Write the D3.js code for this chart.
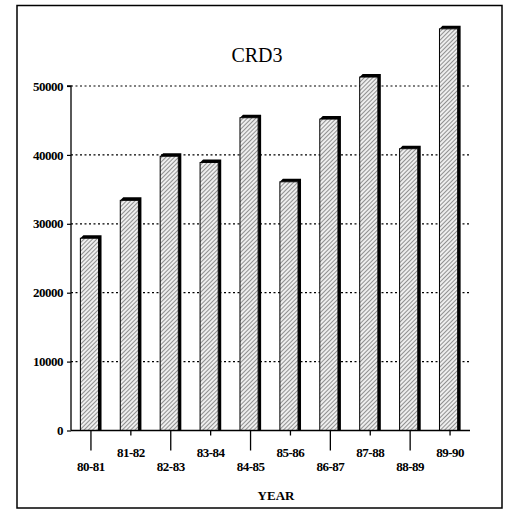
<!DOCTYPE html>
<html>
<head>
<meta charset="utf-8">
<script src="https://cdn.jsdelivr.net/npm/d3@7"></script>
<style>
  html, body { margin: 0; padding: 0; background: #fff; }
  svg { display: block; }
  svg text { font-family: "Liberation Serif", "Times New Roman", Times, "DejaVu Serif", serif !important; fill: #000; }
</style>
</head>
<body>
<svg id="chart" width="507" height="511"></svg>
<script>
const categories = ["80-81","81-82","82-83","83-84","84-85","85-86","86-87","87-88","88-89","89-90"];
const values = [27900, 33400, 39800, 38900, 45400, 36100, 45200, 51300, 40900, 58300];
const yTicks = [0, 10000, 20000, 30000, 40000, 50000];
const title = "CRD3";
const xTitle = "YEAR";

const FONT = "'Liberation Serif', 'Times New Roman', Times, 'DejaVu Serif', serif";
const svg = d3.select("#chart");

// hatch pattern
const defs = svg.append("defs");
const pat = defs.append("pattern")
  .attr("id", "hatch").attr("patternUnits", "userSpaceOnUse")
  .attr("width", 3).attr("height", 3)
  .attr("patternTransform", "rotate(45)");
pat.append("rect").attr("width", 3).attr("height", 3).attr("fill", "#eeeeee");
pat.append("line").attr("x1", 0).attr("y1", 0).attr("x2", 0).attr("y2", 3)
  .attr("stroke", "#444").attr("stroke-width", 1.1);

// frame
svg.append("rect").attr("x", 17).attr("y", 5.5).attr("width", 485).attr("height", 502.5)
  .attr("fill", "none").attr("stroke", "#000").attr("stroke-width", 1.5);

const x = d3.scaleBand().domain(categories).range([71, 470]).paddingInner(0.47).paddingOuter(0.235);
const y = d3.scaleLinear().domain([0, 50000]).range([430.5, 86]);

// title
svg.append("text").attr("x", 257).attr("y", 62).attr("text-anchor", "middle")
  .attr("font-family", FONT).attr("font-size", 20).text(title);

// gridlines
svg.append("g").selectAll("line").data(yTicks.filter(d => d > 0)).join("line")
  .attr("x1", 71).attr("x2", 469)
  .attr("y1", d => y(d)).attr("y2", d => y(d))
  .attr("stroke", "#000").attr("stroke-width", 1.2).attr("stroke-dasharray", "2,2.5");

// y axis
const yAxis = d3.axisLeft(y).tickValues(yTicks).tickSize(4).tickPadding(4).tickFormat(d3.format("d"));
const gy = svg.append("g").attr("transform", "translate(71,0)").call(yAxis)
  .attr("font-family", FONT);
gy.select(".domain").attr("stroke", "#000").attr("stroke-width", 1.3);
gy.selectAll(".tick line").attr("stroke", "#000").attr("stroke-width", 1.2);
gy.selectAll(".tick text").attr("font-family", FONT).attr("font-size", 13)
  .attr("font-weight", "bold").attr("fill", "#000").attr("letter-spacing", -0.5);
gy.select(".domain").attr("d", `M-4,${y(50000)}H0V${y(0)}`);

// bars
const d = 3;
const bw = x.bandwidth() - d;
const bars = svg.append("g").selectAll("g").data(categories).join("g");
bars.append("path")
  .attr("d", (c, i) => {
    const x0 = x(c), yt = y(values[i]), yb = y(0);
    return `M${x0},${yt}L${x0 + d},${yt - d}H${x0 + bw + d}V${yb}H${x0 + bw}V${yt}Z`;
  })
  .attr("fill", "#000");
bars.append("rect")
  .attr("x", c => x(c))
  .attr("y", (c, i) => y(values[i]))
  .attr("width", bw)
  .attr("height", (c, i) => y(0) - y(values[i]))
  .attr("fill", "url(#hatch)")
  .attr("stroke", "#000").attr("stroke-width", 1);

// x axis
const xAxis = d3.axisBottom(x).tickSizeOuter(0).tickSize(0).tickFormat("");
const gx = svg.append("g").attr("transform", `translate(0,${y(0)})`).call(xAxis);
gx.select(".domain").attr("stroke", "#000").attr("stroke-width", 1.3).attr("d", "M71,0H470");

const ticks = svg.append("g").selectAll("g").data(categories).join("g")
  .attr("transform", c => `translate(${x(c) + x.bandwidth() / 2},${y(0)})`);
ticks.append("line").attr("x1", 0).attr("x2", 0).attr("y1", 0)
  .attr("y2", (c, i) => i % 2 === 0 ? 20 : 5)
  .attr("stroke", "#000").attr("stroke-width", 1.3);
ticks.append("text").attr("text-anchor", "middle")
  .attr("y", (c, i) => i % 2 === 0 ? 40 : 26)
  .attr("font-family", FONT)
  .attr("font-size", 13).attr("font-weight", "bold").attr("letter-spacing", -0.5)
  .text(c => c);

svg.append("text").attr("x", 276).attr("y", 500).attr("text-anchor", "middle")
  .attr("font-family", FONT)
  .attr("font-size", 13).attr("font-weight", "bold").text(xTitle);
</script>
</body>
</html>
